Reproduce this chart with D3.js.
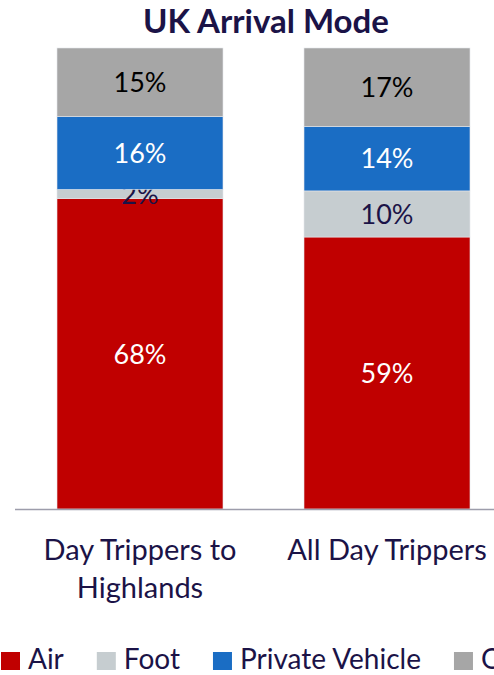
<!DOCTYPE html>
<html>
<head>
<meta charset="utf-8">
<script src="https://cdn.jsdelivr.net/npm/d3@7"></script>
<style>
  body { margin: 0; background: #fff; }
  svg text { font-family: Lato, "Noto Sans", sans-serif; }
</style>
</head>
<body>
<div id="chart"></div>
<script>
// data
var categories = ['Day Trippers to Highlands', 'All Day Trippers'];
var categoryLines = [['Day Trippers to', 'Highlands'], ['All Day Trippers']];
var seriesNames = ['Air', 'Foot', 'Private Vehicle', 'Other'];
var air = [68, 59];
var foot = [2, 10];
var privateVehicle = [16, 14];
var other = [15, 17];

var seriesColors = ['#C00000', '#C6CDD0', '#1A6DC4', '#A6A6A6'];
var labelColors = ['#ffffff', '#1b1347', '#ffffff', '#000000'];

var width = 494, height = 675;
var navy = '#1b1347';

var rows = categories.map(function(c, i) {
  return { cat: c, 'Air': air[i], 'Foot': foot[i], 'Private Vehicle': privateVehicle[i], 'Other': other[i] };
});

var stacked = d3.stack()
  .keys(seriesNames)
  .offset(d3.stackOffsetExpand)(rows);

var x = d3.scaleBand()
  .domain(categories)
  .range([16.5, 510.5])
  .paddingInner(0.328)
  .paddingOuter(0.164);

var y = d3.scaleLinear()
  .domain([0, 1])
  .range([509, 48]);

var svg = d3.select('#chart').append('svg')
  .attr('width', width)
  .attr('height', height);

svg.append('text')
  .attr('x', 266)
  .attr('y', 33)
  .attr('text-anchor', 'middle')
  .style('font-size', '33px')
  .style('font-weight', 'bold')
  .style('fill', navy)
  .text('UK Arrival Mode');

var groups = svg.selectAll('g.series')
  .data(stacked)
  .enter().append('g')
    .attr('class', 'series');

groups.selectAll('rect')
  .data(function(d) { return d.map(function(p) { p.key = d.key; p.idx = d.index; return p; }); })
  .enter().append('rect')
    .attr('x', function(d) { return x(d.data.cat); })
    .attr('y', function(d) { return y(d[1]); })
    .attr('width', x.bandwidth())
    .attr('height', function(d) { return y(d[0]) - y(d[1]); })
    .style('fill', function(d) { return seriesColors[d.idx]; })
    .style('stroke', '#e4e6ea')
    .style('stroke-width', 0.6);

groups.selectAll('text')
  .data(function(d) { return d; })
  .enter().append('text')
    .attr('x', function(d) { return x(d.data.cat) + x.bandwidth() / 2; })
    .attr('y', function(d) { return (y(d[0]) + y(d[1])) / 2; })
    .attr('dy', '0.36em')
    .attr('text-anchor', 'middle')
    .style('font-size', '27px')
    .style('fill', function(d) { return labelColors[d.idx]; })
    .text(function(d) { return d.data[d.key] + '%'; });

// axis line
svg.append('line')
  .attr('x1', 15).attr('x2', 510)
  .attr('y1', 509.5).attr('y2', 509.5)
  .style('stroke', '#9d9dab')
  .style('stroke-width', 1.5);

// category labels
var catLabels = svg.selectAll('text.cat')
  .data(categories)
  .enter().append('text')
    .attr('class', 'cat')
    .attr('text-anchor', 'middle')
    .style('font-size', '29px')
    .style('fill', navy);

catLabels.selectAll('tspan')
  .data(function(d, i) { return categoryLines[i].map(function(l) { return { line: l, cat: d }; }); })
  .enter().append('tspan')
    .attr('x', function(d) { return x(d.cat) + x.bandwidth() / 2; })
    .attr('y', function(d, i) { return 560 + i * 38; })
    .text(function(d) { return d.line; });

// legend
var legend = svg.append('g');
var lx = 1;
seriesNames.forEach(function(name, i) {
  legend.append('rect')
    .attr('x', lx).attr('y', 652)
    .attr('width', 19).attr('height', 18)
    .style('fill', seriesColors[i]);
  var t = legend.append('text')
    .attr('x', lx + 27).attr('y', 669)
    .style('font-size', '28px')
    .style('fill', navy)
    .text(name);
  lx += 27 + t.node().getComputedTextLength() + 33;
});
</script>
</body>
</html>
